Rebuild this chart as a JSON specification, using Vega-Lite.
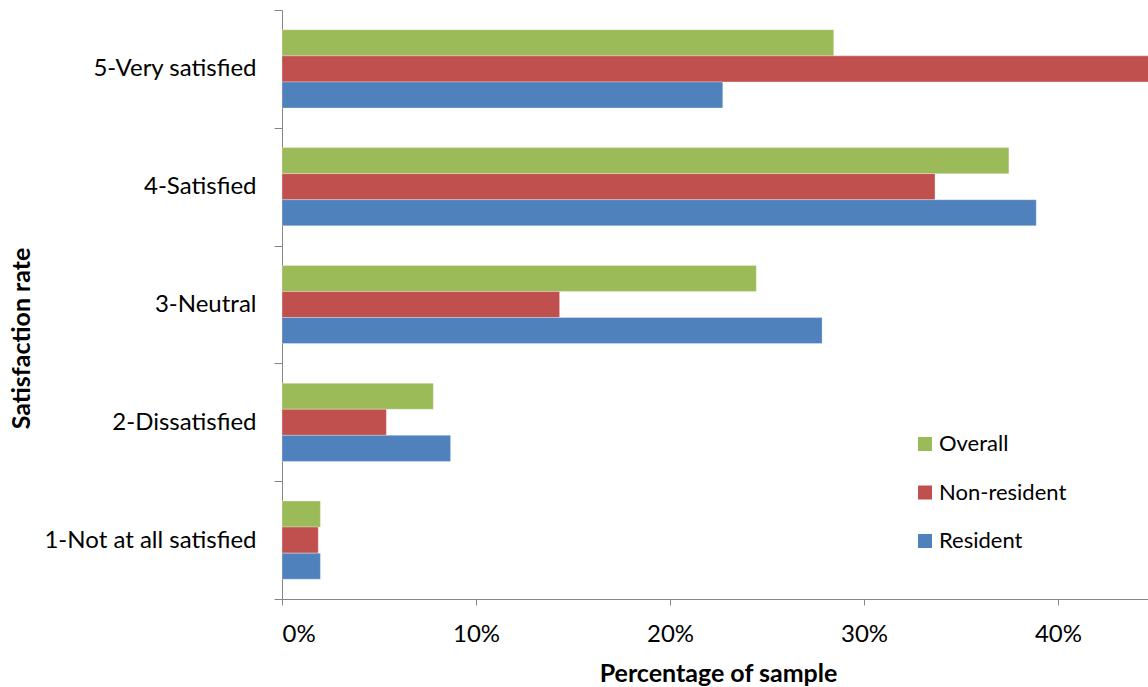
{
  "$schema": "https://vega.github.io/schema/vega-lite/v6.json",
  "width": 866,
  "height": 589,
  "autosize": {"type": "none"},
  "padding": {"left": 282, "top": 10, "right": 0, "bottom": 88},
  "background": "white",
  "config": {
    "view": {"stroke": null},
    "font": "Lato",
    "axis": {"grid": false, "domainColor": "#868686", "tickColor": "#868686", "labelColor": "#000000", "titleColor": "#000000", "labelFont": "Lato", "titleFont": "Lato", "labelLimit": 400}
  },
  "data": {
    "values": [
      {"rate": "5-Very satisfied", "group": "Overall", "share": 0.2844},
      {"rate": "5-Very satisfied", "group": "Non-resident", "share": 0.4478},
      {"rate": "5-Very satisfied", "group": "Resident", "share": 0.2272},
      {"rate": "4-Satisfied", "group": "Overall", "share": 0.3747},
      {"rate": "4-Satisfied", "group": "Non-resident", "share": 0.3366},
      {"rate": "4-Satisfied", "group": "Resident", "share": 0.3888},
      {"rate": "3-Neutral", "group": "Overall", "share": 0.2445},
      {"rate": "3-Neutral", "group": "Non-resident", "share": 0.1431},
      {"rate": "3-Neutral", "group": "Resident", "share": 0.2784},
      {"rate": "2-Dissatisfied", "group": "Overall", "share": 0.078},
      {"rate": "2-Dissatisfied", "group": "Non-resident", "share": 0.0538},
      {"rate": "2-Dissatisfied", "group": "Resident", "share": 0.0869},
      {"rate": "1-Not at all satisfied", "group": "Overall", "share": 0.0198},
      {"rate": "1-Not at all satisfied", "group": "Non-resident", "share": 0.0187},
      {"rate": "1-Not at all satisfied", "group": "Resident", "share": 0.0198}
    ]
  },
  "mark": {"type": "bar", "clip": true, "stroke": "#ffffff", "strokeWidth": 0.6, "strokeOpacity": 0.5},
  "encoding": {
    "y": {
      "field": "rate",
      "type": "nominal",
      "sort": ["5-Very satisfied", "4-Satisfied", "3-Neutral", "2-Dissatisfied", "1-Not at all satisfied"],
      "scale": {"paddingInner": 0, "paddingOuter": 0},
      "axis": {
        "title": "Satisfaction rate",
        "titleFontSize": 25,
        "titleFontWeight": "bold",
        "titleAngle": -90,
        "titleX": -261,
        "titleY": 328,
        "titleAlign": "center",
        "titleBaseline": "middle",
        "labelFontSize": 24,
        "labelFontWeight": "normal",
        "labelPadding": 18,
        "tickSize": 8,
        "tickBand": "extent",
        "labelAlign": "right",
        "labelBaseline": "middle"
      }
    },
    "yOffset": {
      "field": "group",
      "type": "nominal",
      "sort": ["Overall", "Non-resident", "Resident"],
      "scale": {"paddingInner": 0, "paddingOuter": 0.76}
    },
    "x": {
      "field": "share",
      "type": "quantitative",
      "scale": {"domain": [0, 0.4464], "nice": false, "zero": true},
      "axis": {
        "title": "Percentage of sample",
        "titleFontSize": 25,
        "titleFontWeight": "bold",
        "titleX": 436,
        "titleY": 74,
        "titleBaseline": "middle",
        "values": [0, 0.1, 0.2, 0.3, 0.4],
        "format": ".0%",
        "labelFontSize": 24,
        "labelPadding": 29,
        "labelBaseline": "middle",
        "tickSize": 6
      }
    },
    "color": {
      "field": "group",
      "type": "nominal",
      "sort": ["Overall", "Non-resident", "Resident"],
      "scale": {"domain": ["Overall", "Non-resident", "Resident"], "range": ["#9BBB59", "#C0504D", "#4F81BD"]},
      "legend": {
        "title": null,
        "orient": "none",
        "legendX": 632,
        "legendY": 423,
        "symbolType": "square",
        "symbolSize": 196,
        "symbolStrokeWidth": 0,
        "labelFontSize": 22,
        "labelFont": "Lato",
        "labelColor": "#000000",
        "labelOffset": 3,
        "rowPadding": 26.5
      }
    }
  }
}
